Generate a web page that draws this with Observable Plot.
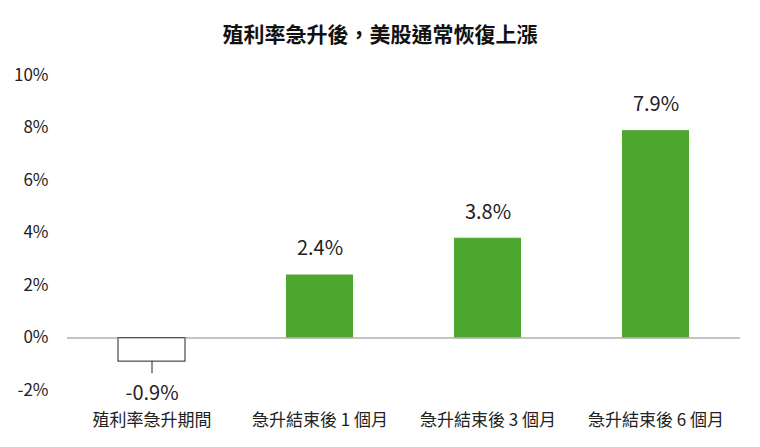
<!DOCTYPE html>
<html lang="zh-Hant-TW"><head><meta charset="utf-8">
<script src="https://cdn.jsdelivr.net/npm/d3@7"></script>
<script src="https://cdn.jsdelivr.net/npm/@observablehq/plot@0.6"></script>
<style>
body{margin:0;background:#fff;font-family:"Noto Sans CJK TC","Noto Sans",sans-serif;}
#title{height:56px;line-height:66px;text-align:center;font-size:21px;font-weight:bold;color:#111;}
</style></head><body>
<div id="title" lang="zh-Hant-TW">殖利率急升後，美股通常恢復上漲</div>
<div id="chart"></div>
<script>
const categories = ["殖利率急升期間", "急升結束後 1 個月", "急升結束後 3 個月", "急升結束後 6 個月"];
const values = [-0.9, 2.4, 3.8, 7.9];
const yTicks = [-2, 0, 2, 4, 6, 8, 10];
const data = categories.map((c, i) => ({cat: c, v: values[i]}));
const pos = data.filter(d => d.v >= 0);
const neg = data.filter(d => d.v < 0);
const chart = Plot.plot({
  width: 760, height: 391,
  marginTop: 19, marginBottom: 57, marginLeft: 67, marginRight: 20,
  style: {fontFamily: '"Noto Sans CJK TC","Noto Sans",sans-serif', fontSize: "17px", color: "#222", background: "#fff"},
  x: {domain: categories, paddingInner: 0.6, paddingOuter: 0.3, label: null, tickSize: 0, tickPadding: 23},
  y: {domain: [-2, 10], ticks: yTicks, tickFormat: d => d + "%", label: null, tickSize: 0, tickPadding: 19},
  marks: [
    Plot.barY(pos, {x: "cat", y: "v", fill: "#4ea72e"}),
    Plot.barY(neg, {x: "cat", y: "v", fill: "#fff", stroke: "#222", strokeWidth: 1}),
    Plot.ruleX(neg, {x: "cat", y1: "v", y2: "v", insetBottom: -12, stroke: "#222"}),
    Plot.ruleY([0], {stroke: "#888"}),
    Plot.text(pos, {x: "cat", y: "v", text: d => d.v.toFixed(1) + "%", dy: -26, fontSize: 20, fill: "#222"}),
    Plot.text(neg, {x: "cat", y: "v", text: d => d.v.toFixed(1) + "%", dy: 32, fontSize: 20, fill: "#222"})
  ]
});
chart.setAttribute("lang", "zh-Hant-TW");
document.getElementById("chart").appendChild(chart);
</script>
</body></html>
